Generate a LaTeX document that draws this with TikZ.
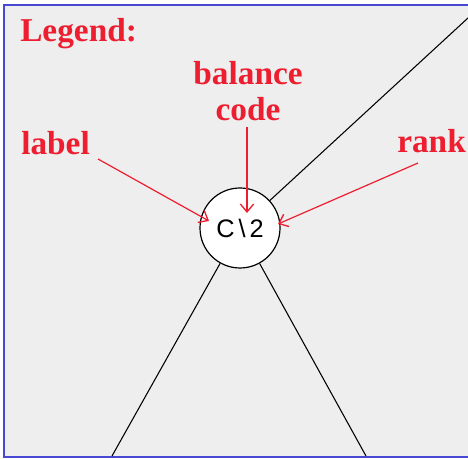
\documentclass[tikz,border=0pt]{standalone}
\usepackage{fontspec}
\setmainfont{Liberation Serif}
\newfontfamily\treefont{Liberation Sans}
\usetikzlibrary{arrows.meta}
\definecolor{legendred}{RGB}{237,30,48}
\definecolor{panelgray}{RGB}{238,238,238}
\definecolor{frameblue}{RGB}{72,72,212}

\begin{document}
\begin{tikzpicture}[x=0.75pt,y=-0.75pt,
  legendtext/.style={text=legendred,inner sep=0pt,align=center,
    font=\fontsize{25}{27}\selectfont\bfseries},
  pointer/.style={draw=legendred,line width=0.9pt,
    -{Straight Barb[length=6pt,width=10pt,line width=1pt]}},
  treenode/.style={circle,draw,line width=0.9pt,fill=white,
    minimum size=60pt,inner sep=0pt,font=\treefont\fontsize{19}{19}\selectfont},
  edge/.style={line width=0.8pt}]
\useasboundingbox (0,0) rectangle (468,459);
\fill[white] (0,0) rectangle (468,459);
\fill[panelgray] (4,5) rectangle (468,457);
\draw[frameblue,line width=1.8pt] (468,5) -- (4,5) -- (4,457) -- (468,457);

% tree node and its edges
\node[treenode] (nd) at (240,228) {C\kern3pt\textbackslash\kern3pt2};
\coordinate (upright) at (468,18);
\coordinate (downleft) at (112,456);
\coordinate (downright) at (366,456);
\draw[edge] (nd) -- (upright);
\draw[edge] (nd) -- (downleft);
\draw[edge] (nd) -- (downright);

% legend texts
\node[legendtext,anchor=base west] (legend) at (20,42) {Legend:};
\node[legendtext] (balance) at (248,91) {balance\\code};
\node[legendtext,anchor=base west] (labeltxt) at (21,155) {label};
\node[legendtext,anchor=base west] (ranktxt) at (397,153) {rank};

% pointers
\coordinate (labeltail) at (98,159);
\coordinate (labeltip) at (209,221);
\coordinate (balancetail) at (247,127);
\coordinate (balancetip) at (247,213);
\coordinate (ranktail) at (418,163);
\coordinate (ranktip) at (278,224);
\draw[pointer] (labeltail) -- (labeltip);
\draw[pointer] (balancetail) -- (balancetip);
\draw[pointer] (ranktail) -- (ranktip);
\end{tikzpicture}
\end{document}
